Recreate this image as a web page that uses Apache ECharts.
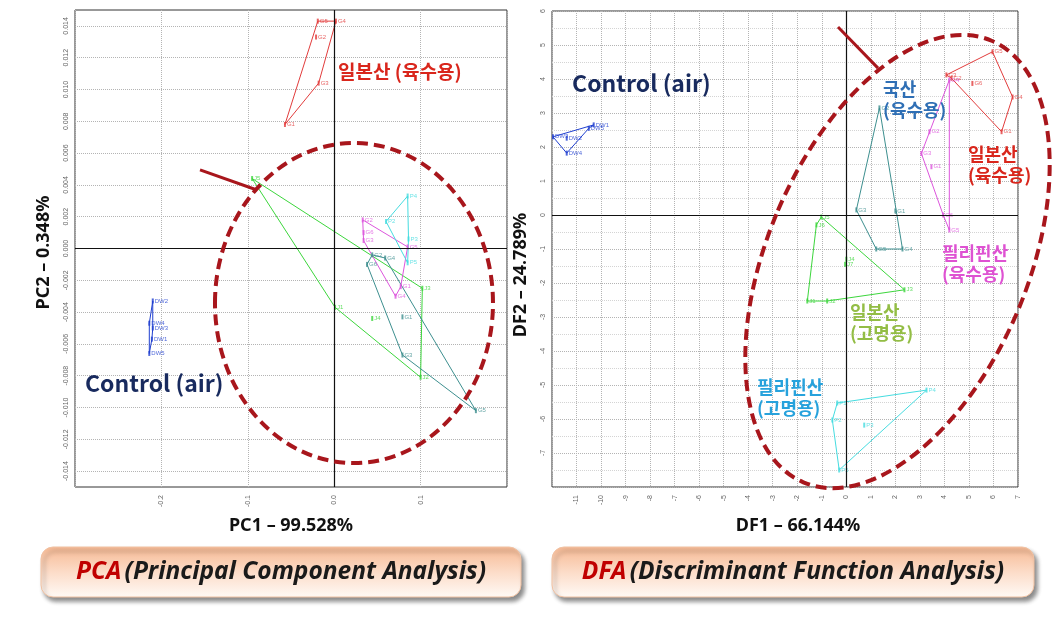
<!DOCTYPE html>
<html><head><meta charset="utf-8">
<script src="https://cdn.jsdelivr.net/npm/echarts@6/dist/echarts.min.js"></script>
<style>html,body{margin:0;padding:0;background:#fff}#c{width:1061px;height:617px}</style>
</head><body><div id="c"></div>
<script>
// ---------- axis titles / tick settings ----------
const pcaXTitle = 'PC1 – 99.528%';
const pcaYTitle = 'PC2 – 0.348%';
const dfaXTitle = 'DF1 – 66.144%';
const dfaYTitle = 'DF2 – 24.789%';

// ---------- PCA data (PC1, PC2) ----------
const pcaControlPts = [[-0.210,-0.0033],[-0.214,-0.0047],[-0.210,-0.0050],[-0.211,-0.0057],[-0.214,-0.0066]];
const pcaControlNames = ['DW2','DW4','DW3','DW1','DW5'];
const pcaControlHull = [0,2,3,4,1,0];

const pcaJpSoupPts = [[-0.019,0.0143],[0.002,0.0143],[-0.021,0.0133],[-0.018,0.0104],[-0.057,0.0078]];
const pcaJpSoupNames = ['G5','G4','G2','G3','G1'];
const pcaJpSoupHull = [0,1,3,4,0];

const pcaJpGarnishPts = [[-0.095,0.0044],[0.102,-0.0025],[0.100,-0.0081],[0.001,-0.0037],[0.044,-0.0044]];
const pcaJpGarnishNames = ['J5','J3','J2','J1','J4'];
const pcaJpGarnishHull = [0,1,2,3,0];

const pcaDomesticPts = [[0.044,-0.0004],[0.059,-0.0006],[0.164,-0.0102],[0.079,-0.0067],[0.038,-0.0010],[0.079,-0.0043]];
const pcaDomesticNames = ['G2','G4','G5','G3','G6','G1'];
const pcaDomesticHull = [0,1,2,3,4,0];

const pcaPhSoupPts = [[0.033,0.0018],[0.085,0.0001],[0.077,-0.0024],[0.071,-0.0030],[0.034,0.0005],[0.034,0.0010]];
const pcaPhSoupNames = ['G2','G5','G1','G4','G3','G6'];
const pcaPhSoupHull = [0,1,2,3,4,0];

const pcaPhGarnishPts = [[0.085,0.0033],[0.060,0.0017],[0.086,0.0006],[0.085,-0.0009]];
const pcaPhGarnishNames = ['P4','P2','P3','P5'];
const pcaPhGarnishHull = [0,2,3,1,0];

// ---------- DFA data (DF1, DF2) ----------
const dfaControlPts = [[-11.96,2.30],[-11.40,2.26],[-11.40,1.82],[-10.50,2.55],[-10.30,2.65]];
const dfaControlNames = ['DW3','DW2','DW4','DW5','DW1'];
const dfaControlHull = [0,4,3,2,0];

const dfaJpSoupPts = [[4.08,4.12],[5.96,4.80],[6.78,3.47],[6.33,2.45],[4.29,4.02],[5.14,3.87]];
const dfaJpSoupNames = ['G3','G5','G4','G1','G2','G6'];
const dfaJpSoupHull = [0,1,2,3,4,0];

const dfaDomesticPts = [[1.35,3.15],[2.29,-1.00],[1.22,-1.00],[0.41,0.15],[2.00,0.12]];
const dfaDomesticNames = ['G2','G4','G5','G3','G1'];
const dfaDomesticHull = [0,1,2,3,0];

const dfaPhSoupPts = [[4.20,3.97],[4.20,-0.44],[3.95,0.00],[3.06,1.81],[3.39,2.45],[3.47,1.42]];
const dfaPhSoupNames = ['G4','G5','G6','G3','G2','G1'];
const dfaPhSoupHull = [0,1,2,3,0];

const dfaJpGarnishPts = [[-1.02,-0.06],[2.37,-2.20],[-0.78,-2.53],[-1.59,-2.53],[-1.22,-0.29],[0.00,-1.30],[-0.05,-1.45]];
const dfaJpGarnishNames = ['J5','J3','J2','J1','J6','J4','J7'];
const dfaJpGarnishHull = [0,1,2,3,4,0];

const dfaPhGarnishPts = [[-0.37,-5.53],[3.27,-5.15],[-0.29,-7.50],[-0.57,-6.03],[0.73,-6.18]];
const dfaPhGarnishNames = ['P1','P4','P5','P2','P3'];
const dfaPhGarnishHull = [0,1,2,3,0];

// ---------- annotations (data coordinates) ----------
const pcaArrow = [[-0.1553,0.00494],[-0.0894,0.00368]];
const dfaArrow = [[-0.339,5.53],[1.292,4.32]];
const pcaEllipseCenter = [0.0229,-0.00343];
const dfaEllipseCenter = [2.087,-1.368];
const pcaLabels = [
  {text:'일본산 (육수용)', at:[0.0044,0.0111], color:'#d9261c', size:19},
  {text:'Control (air)', at:[-0.2884,-0.00846], color:'#182a5e', size:23}
];
const dfaLabels = [
  {text:'Control (air)', at:[-11.18,3.88], color:'#182a5e', size:23},
  {text:'국산\n(육수용)', at:[1.50,3.38], color:'#2f6fb5', size:18},
  {text:'일본산\n(육수용)', at:[4.96,1.47], color:'#d9261c', size:18},
  {text:'필리핀산\n(육수용)', at:[3.90,-1.44], color:'#de52d2', size:18},
  {text:'일본산\n(고명용)', at:[0.15,-3.18], color:'#93bd45', size:18},
  {text:'필리핀산\n(고명용)', at:[-3.64,-5.38], color:'#27a2dc', size:18}
];

// ---------- colours ----------
const C = {control:'#1f3fd0', jpSoup:'#e23c3c', jpGarnish:'#3cd63c', domestic:'#3d8f8f', phSoup:'#dd55dd', phGarnish:'#45dce0'};
const dark = '#a8161c';
const KR = '"Noto Sans CJK KR","Noto Sans",sans-serif';

function group(gi, name, pts, names, hull, color, extra) {
  const line = {type:'line', name:name, xAxisIndex:gi, yAxisIndex:gi, data:hull.map(i=>pts[i]),
    symbol:'none', lineStyle:{color:color, width:1}, silent:true, z:3, clip:false, animation:false};
  const sc = {type:'scatter', name:name, xAxisIndex:gi, yAxisIndex:gi,
    data:pts.map((p,i)=>({value:p, name:names[i]})), symbol:'rect', symbolSize:[2,5],
    itemStyle:{color:color}, z:4, animation:false,
    label:{show:true, formatter:'{b}', fontSize:6, color:color, position:'right', distance:1, fontFamily:'Liberation Sans'}};
  if (extra) Object.assign(sc, extra);
  return [line, sc];
}
const zeroLines = {silent:true, symbol:'none', label:{show:false}, animation:false,
  lineStyle:{color:'#111', width:1.2, type:'solid'}, data:[{yAxis:0},{xAxis:0}]};
function arrow(a) {
  return {silent:true, symbol:['none','arrow'], symbolSize:[0,13], label:{show:false}, animation:false,
    lineStyle:{color:dark, width:3, type:'solid'}, data:[[{coord:a[0]},{coord:a[1]}]]};
}
const titleStyle = {fontSize:18, fontWeight:'bold', color:'#111', fontFamily:'"Noto Sans",sans-serif'};
const tickLabel = {fontSize:7, color:'#666', rotate:90, fontFamily:'Liberation Sans'};
const grid = {type:'dotted', color:'#b4b4b4', width:1};

const option = {
  backgroundColor:'#fff',
  animation:false,
  grid:[
    {left:75, top:10, right:554, bottom:130, show:true, borderColor:'#333', borderWidth:1, containLabel:false},
    {left:552, top:11, right:43, bottom:130, show:true, borderColor:'#333', borderWidth:1, containLabel:false}
  ],
  xAxis:[
    {gridIndex:0, type:'value', min:-0.3, max:0.2, interval:0.1,
     axisLine:{show:false}, axisTick:{show:false},
     axisLabel:Object.assign({}, tickLabel, {margin:8, showMinLabel:false, showMaxLabel:false, formatter:v=>(Math.abs(v)<1e-9?0:v).toFixed(1)}),
     splitLine:{show:true, lineStyle:grid},
     name:pcaXTitle, nameLocation:'middle', nameGap:30, nameTextStyle:titleStyle},
    {gridIndex:1, type:'value', min:-12, max:7, interval:1,
     axisLine:{show:false}, axisTick:{show:false},
     axisLabel:Object.assign({}, tickLabel, {margin:8, showMinLabel:false}),
     splitLine:{show:true, lineStyle:grid},
     name:dfaXTitle, nameLocation:'middle', nameGap:30,
     nameTextStyle:Object.assign({}, titleStyle, {padding:[0,0,0,26]})}
  ],
  yAxis:[
    {gridIndex:0, type:'value', min:-0.015, max:0.015, interval:0.001,
     axisLine:{show:false}, axisTick:{show:false},
     axisLabel:Object.assign({}, tickLabel, {margin:5,
       formatter:v=>{const k=Math.round(v*1000); return (k%2===0)?(k===0?'0.000':v.toFixed(3)):'';}}),
     splitLine:{show:true, lineStyle:Object.assign({}, grid, {color:['transparent','#b4b4b4']})},
     name:pcaYTitle, nameLocation:'middle', nameGap:22, nameRotate:90,
     nameTextStyle:Object.assign({}, titleStyle, {padding:[0,8,0,0]})},
    {gridIndex:1, type:'value', min:-8, max:6, interval:1,
     axisLine:{show:false}, axisTick:{show:false},
     axisLabel:Object.assign({}, tickLabel, {margin:5, showMinLabel:false}),
     splitLine:{show:true, lineStyle:grid},
     minorTick:{show:false, splitNumber:2},
     minorSplitLine:{show:true, lineStyle:{type:'dotted', color:'#d4d4d4', width:1}},
     name:dfaYTitle, nameLocation:'middle', nameGap:22, nameRotate:90,
     nameTextStyle:Object.assign({}, titleStyle, {padding:[0,52,0,0]})}
  ],
  series:[].concat(
    group(0,'Control (air)',pcaControlPts,pcaControlNames,pcaControlHull,C.control,{markLine:zeroLines}),
    group(0,'일본산 (육수용)',pcaJpSoupPts,pcaJpSoupNames,pcaJpSoupHull,C.jpSoup,{markLine:arrow(pcaArrow)}),
    group(0,'일본산 (고명용)',pcaJpGarnishPts,pcaJpGarnishNames,pcaJpGarnishHull,C.jpGarnish),
    group(0,'국산 (육수용)',pcaDomesticPts,pcaDomesticNames,pcaDomesticHull,C.domestic),
    group(0,'필리핀산 (육수용)',pcaPhSoupPts,pcaPhSoupNames,pcaPhSoupHull,C.phSoup),
    group(0,'필리핀산 (고명용)',pcaPhGarnishPts,pcaPhGarnishNames,pcaPhGarnishHull,C.phGarnish),
    group(1,'Control (air)',dfaControlPts,dfaControlNames,dfaControlHull,C.control,{markLine:zeroLines}),
    group(1,'일본산 (육수용)',dfaJpSoupPts,dfaJpSoupNames,dfaJpSoupHull,C.jpSoup,{markLine:arrow(dfaArrow)}),
    group(1,'국산 (육수용)',dfaDomesticPts,dfaDomesticNames,dfaDomesticHull,C.domestic),
    group(1,'필리핀산 (육수용)',dfaPhSoupPts,dfaPhSoupNames,dfaPhSoupHull,C.phSoup),
    group(1,'일본산 (고명용)',dfaJpGarnishPts,dfaJpGarnishNames,dfaJpGarnishHull,C.jpGarnish),
    group(1,'필리핀산 (고명용)',dfaPhGarnishPts,dfaPhGarnishNames,dfaPhGarnishHull,C.phGarnish)
  )
};

const chart = echarts.init(document.getElementById('c'), null, {renderer:'canvas'});
chart.setOption(option);

function toPx(gi, p) { return chart.convertToPixel({gridIndex:gi}, p); }
const g = [];
// ellipses
const e0 = toPx(0, pcaEllipseCenter), e1 = toPx(1, dfaEllipseCenter);
const ellStyle = {fill:'none', stroke:dark, lineWidth:4, lineDash:[11,6]};
g.push({type:'ellipse', x:e0[0], y:e0[1], shape:{cx:0, cy:0, rx:139, ry:160}, style:ellStyle, z:20, silent:true});
g.push({type:'ellipse', x:e1[0], y:e1[1], rotation:-0.403, shape:{cx:0, cy:0, rx:130, ry:240}, style:ellStyle, z:20, silent:true});
// in-plot labels
function addLabels(gi, arr) {
  arr.forEach(l => {
    const p = toPx(gi, l.at);
    g.push({type:'text', x:p[0], y:p[1], z:30, silent:true,
      style:{text:l.text, fill:l.color, font:'bold '+l.size+'px '+KR, fontWeight:'bold', fontSize:l.size, fontFamily:KR,
        align:'left', textAlign:'left', verticalAlign:'middle', textVerticalAlign:'middle', lineHeight:l.size+3}});
  });
}
addLabels(0, pcaLabels);
addLabels(1, dfaLabels);
// bottom caption boxes
const boxFont = '"Noto Sans",sans-serif';
function box(x, w, key, rest) {
  g.push({type:'rect', shape:{x:x, y:547, width:w, height:50, r:12}, z:5, silent:true,
    style:{fill:{type:'linear', x:0, y:0, x2:0, y2:1, colorStops:[
      {offset:0, color:'#f6b993'},{offset:0.5, color:'#fcdcc8'},{offset:1, color:'#fffaf6'}]},
      stroke:'#f1c2a3', lineWidth:1, shadowBlur:4, shadowOffsetX:3, shadowOffsetY:4, shadowColor:'rgba(0,0,0,0.45)'}});
  g.push({type:'text', x:x+w/2, y:572, z:6, silent:true,
    style:{text:'{a|'+key+'} {b|'+rest+'}', align:'center', textAlign:'center', verticalAlign:'middle', textVerticalAlign:'middle',
      rich:{
        a:{fill:'#c00000', color:'#c00000', fontSize:24.5, fontWeight:'bold', fontStyle:'italic', fontFamily:boxFont},
        b:{fill:'#1a1a1a', color:'#1a1a1a', fontSize:24.5, fontWeight:'bold', fontStyle:'italic', fontFamily:boxFont}
      }}});
}
box(41, 480, 'PCA', '(Principal Component Analysis)');
box(552, 482, 'DFA', '(Discriminant Function Analysis)');
chart.setOption({graphic:{elements:g}});
</script>
</body></html>
